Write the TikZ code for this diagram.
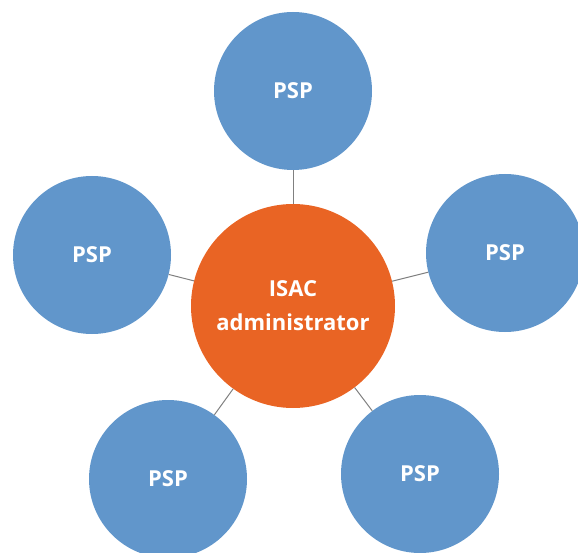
\documentclass[tikz,border=0pt]{standalone}
\usepackage{fontspec}
\setmainfont{Open Sans}
\definecolor{pspblue}{HTML}{6196CB}
\definecolor{isacorange}{HTML}{E96424}
\tikzset{
    psp/.style={circle, fill=pspblue, text=white, minimum size=158pt, inner sep=0pt, font=\fontsize{22}{26}\selectfont\bfseries},
    admin/.style={circle, fill=isacorange, text=white, minimum size=204pt, inner sep=0pt, align=center, font=\fontsize{22}{34}\selectfont\bfseries},
    link/.style={draw=gray, line width=1pt}
}
\begin{document}
\begin{tikzpicture}[x=1pt, y=-1pt]
        \useasboundingbox (0,0) rectangle (578,553);

        \node[admin](isac) at (293, 306){ISAC\\administrator};

        \node[psp](top) at (293, 91){PSP};
        \node[psp](left) at (92, 255){PSP};
        \node[psp](right) at (505, 253){PSP};
        \node[psp](botleft) at (168, 479){PSP};
        \node[psp](botright) at (420, 474){PSP};

        \draw[link] (isac) -- (top);
        \draw[link] (isac) -- (left);
        \draw[link] (isac) -- (right);
        \draw[link] (isac) -- (botleft);
        \draw[link] (isac) -- (botright);
    \end{tikzpicture}
\end{document}
